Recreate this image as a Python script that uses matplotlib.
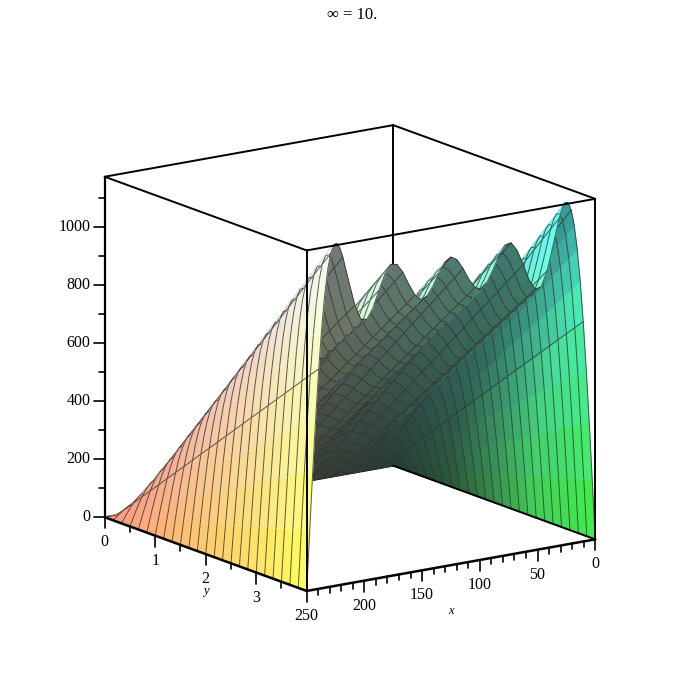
import numpy as np
import matplotlib
matplotlib.use("Agg")
import matplotlib.pyplot as plt
from mpl_toolkits.mplot3d import proj3d
from mpl_toolkits.mplot3d.art3d import Poly3DCollection

plt.rcParams['font.family'] = ['Liberation Serif', 'DejaVu Serif']

# --- data ---
x_vals = [0, 2.6, 5.21, 7.81, 10.42, 13.02, 15.63, 18.23, 20.83, 23.44, 26.04, 28.65, 31.25,
          36.46, 41.67, 46.88, 52.08, 57.29, 62.5, 67.71, 72.92, 78.13, 83.33, 88.54, 93.75,
          98.96, 104.17, 109.38, 114.58, 119.79, 125,
          130.21, 135.42, 140.63, 145.83, 151.04, 156.25, 161.46, 166.67, 171.88, 177.08,
          182.29, 187.5, 192.71, 197.92, 203.13, 208.33, 213.54,
          218.75, 221.35, 223.96, 226.56, 229.17, 231.77, 234.38, 236.98, 239.58, 242.19,
          244.79, 247.4, 250]
# height along the far edge (y at its maximum)
edge_z = [0, 207, 408, 593, 759, 900, 1013, 1097, 1151, 1178, 1181, 1163, 1130,
          1041, 956, 904, 900, 935, 992, 1045, 1075, 1071, 1040, 994, 954, 934, 943, 974,
          1016, 1050, 1063,
          1050, 1016, 974, 943, 934, 954, 994, 1040, 1071, 1075, 1045, 992, 935, 900, 904,
          956, 1041,
          1130, 1163, 1181, 1178, 1151, 1097, 1013, 900, 759, 593, 408, 207, 0]
y_vals = [0, 0.167, 0.333, 0.5, 0.667, 0.833, 1, 1.167, 1.333, 1.5, 1.667, 1.833, 2,
          2.167, 2.333, 2.5, 2.667, 2.833, 3, 3.167, 3.333, 3.5, 3.667, 3.833, 4]
# share of the edge height reached at each y
y_share = [0, 0.042, 0.083, 0.125, 0.167, 0.208, 0.25, 0.292, 0.333, 0.375, 0.417, 0.458, 0.5,
           0.542, 0.583, 0.625, 0.667, 0.708, 0.75, 0.792, 0.833, 0.875, 0.917, 0.958, 1]

x_ticks = [0, 50, 100, 150, 200, 250]
x_minor = [v for v in range(0, 250, 10) if v % 50 != 0]
y_ticks = [0, 1, 2, 3]
y_minor = [0.5, 1.5, 2.5, 3.5]
z_ticks = [0, 200, 400, 600, 800, 1000]
z_minor = [100, 300, 500, 700, 900, 1100]
title = "\u221e = 10."

XMAX, YMAX, ZMAX = 250.0, 4.0, 1175.0
ELEV, AZIM = 14.8, 55.0
PX_UNIT = 352.0    # pixels per box side
PX_Z = ZMAX / 340.0  # z units per pixel on screen

x = np.array(x_vals)
y = np.array(y_vals)
Z = np.outer(y_share, edge_z)

fig = plt.figure(figsize=(7, 7), dpi=100)
ax = fig.add_axes([-9.5 / 700, -17.5 / 700, 1, 1], projection='3d', proj_type='ortho',
                  computed_zorder=False)
ax.view_init(elev=ELEV, azim=AZIM)
ax.set_box_aspect((1, 1, 1), zoom=0.846)
ax.set_axis_off()
ax.set_xlim(0, XMAX, view_margin=0)
ax.set_ylim(0, YMAX, view_margin=0)
ax.set_zlim(0, ZMAX, view_margin=0)

# view direction in box units
e, a = np.radians(ELEV), np.radians(AZIM)
view = np.array([np.cos(e) * np.cos(a), np.cos(e) * np.sin(a), np.sin(e)])

# --- faces ---
polys, face_cols = [], []
for i in range(len(y) - 1):
    for j in range(len(x) - 1):
        xs = [x[j], x[j + 1], x[j + 1], x[j]]
        ys = [y[i], y[i], y[i + 1], y[i + 1]]
        zs = [Z[i, j], Z[i, j + 1], Z[i + 1, j + 1], Z[i + 1, j]]
        polys.append(list(zip(xs, ys, zs)))

        xn, yn, zn = np.mean(xs) / XMAX, np.mean(ys) / YMAX, min(np.mean(zs) / ZMAX, 1)
        base = np.array([0.2 + 0.8 * xn, 0.52 + 0.48 * yn, 0.19 + 0.23 * (1 - yn) + 0.8 * zn])

        dzx = ((Z[i, j + 1] + Z[i + 1, j + 1] - Z[i, j] - Z[i + 1, j]) / 2 / ZMAX) / ((x[j + 1] - x[j]) / XMAX)
        dzy = ((Z[i + 1, j] + Z[i + 1, j + 1] - Z[i, j] - Z[i, j + 1]) / 2 / ZMAX) / ((y[i + 1] - y[i]) / YMAX)
        n = np.array([-dzx, -dzy, 1.0])
        n = n / np.linalg.norm(n)
        if n @ view > 0:
            col = base + (1 - base) * 0.15   # upper side, washed out
        else:
            # under side is dim, only the steep wall by x=0 catches light
            f = 0.3 + 0.1 * yn + max(abs(dzx) - 5, 0) / 11 * 0.5 + 0.25 * yn * max(1 - xn / 0.2, 0)
            col = base * np.clip(f, 0.3, 0.85) + 0.08
        face_cols.append((*np.clip(col, 0, 1), 1.0))

# --- mesh lines go in the same collection so they get depth sorted with the faces ---
MESH = (0.2, 0.2, 0.2, 0.8)
shift = 0.03 * view * np.array([XMAX, YMAX, ZMAX])
mesh = []
for i in range(len(y)):
    for j in range(len(x) - 1):
        mesh.append([(x[j] + shift[0], y[i] + shift[1], Z[i, j] + shift[2]),
                     (x[j + 1] + shift[0], y[i] + shift[1], Z[i, j + 1] + shift[2])])
for m in range(25):
    j = np.argmin(np.abs(x - m * XMAX / 24))
    for i in range(len(y) - 1):
        mesh.append([(x[j] + shift[0], y[i] + shift[1], Z[i, j] + shift[2]),
                     (x[j] + shift[0], y[i + 1] + shift[1], Z[i + 1, j] + shift[2])])

all_cols = face_cols + [MESH] * len(mesh)
surf = Poly3DCollection(polys + mesh, facecolors=all_cols, edgecolors=all_cols,
                        linewidths=0.7, zorder=2)
ax.add_collection3d(surf)

# --- box ---
def edge(p, q, zorder, lw=1.4):
    ax.plot([p[0], q[0]], [p[1], q[1]], [p[2], q[2]], color='black', lw=lw,
            zorder=zorder, solid_capstyle='round')

# behind the surface
edge((0, 0, 0), (0, 0, ZMAX), 1)
edge((0, 0, 0), (XMAX, 0, 0), 1)
edge((0, 0, ZMAX), (XMAX, 0, ZMAX), 1)
edge((0, 0, ZMAX), (0, YMAX, ZMAX), 1)
# in front of it
edge((0, 0, 0), (0, YMAX, 0), 3)
edge((XMAX, 0, ZMAX), (XMAX, YMAX, ZMAX), 3)
edge((0, YMAX, ZMAX), (XMAX, YMAX, ZMAX), 3)
edge((XMAX, YMAX, 0), (XMAX, YMAX, ZMAX), 3)
edge((0, YMAX, 0), (0, YMAX, ZMAX), 3)
edge((XMAX, 0, 0), (XMAX, 0, ZMAX), 3, lw=1.6)
edge((XMAX, 0, 0), (XMAX, YMAX, 0), 3, lw=1.8)
edge((0, YMAX, 0), (XMAX, YMAX, 0), 3, lw=1.8)

# --- ticks ---
MAJOR, MINOR = 11, 6
for v in x_ticks + x_minor:
    ln = MAJOR if v in x_ticks else MINOR
    edge((v, YMAX, 0), (v, YMAX, -ln * PX_Z), 3, lw=1.2)
for v in y_ticks + y_minor:
    ln = MAJOR if v in y_ticks else MINOR
    edge((XMAX, v, 0), (XMAX, v, -ln * PX_Z), 3, lw=1.2)

def left_of_axis(px):
    # screen-left shift at the z axis, in data units
    return np.sin(a) * px / PX_UNIT * XMAX, -np.cos(a) * px / PX_UNIT * YMAX

for v in z_ticks + z_minor:
    ln = MAJOR if v in z_ticks else MINOR
    dx, dy = left_of_axis(ln)
    edge((XMAX, 0, v), (XMAX + dx, dy, v), 3, lw=1.2)

# --- labels ---
FS = 11.5
M = ax.get_proj()

def label(px, py, pz, s, **kw):
    # plain 2D text placed at the projected point
    sx, sy, _ = proj3d.proj_transform(px, py, pz, M)
    ax.text2D(sx, sy, s, fontsize=FS, va='center', zorder=4, transform=ax.transData, **kw)

for v in x_ticks:
    label(v, YMAX, -25 * PX_Z, str(v), ha='center')
for v in y_ticks:
    label(XMAX, v, -25 * PX_Z, str(v), ha='center')
dx, dy = left_of_axis(14)
for v in z_ticks:
    label(XMAX + dx, dy, v, str(v), ha='right')

fig.text(451 / 700, 1 - 611 / 700, "x", fontsize=9, style='italic', ha='center', va='center')
fig.text(206 / 700, 1 - 591 / 700, "y", fontsize=9, style='italic', ha='center', va='center')
fig.text(352 / 700, 1 - 15 / 700, title, fontsize=12, ha='center', va='center')

fig.savefig("out.png", dpi=100)
